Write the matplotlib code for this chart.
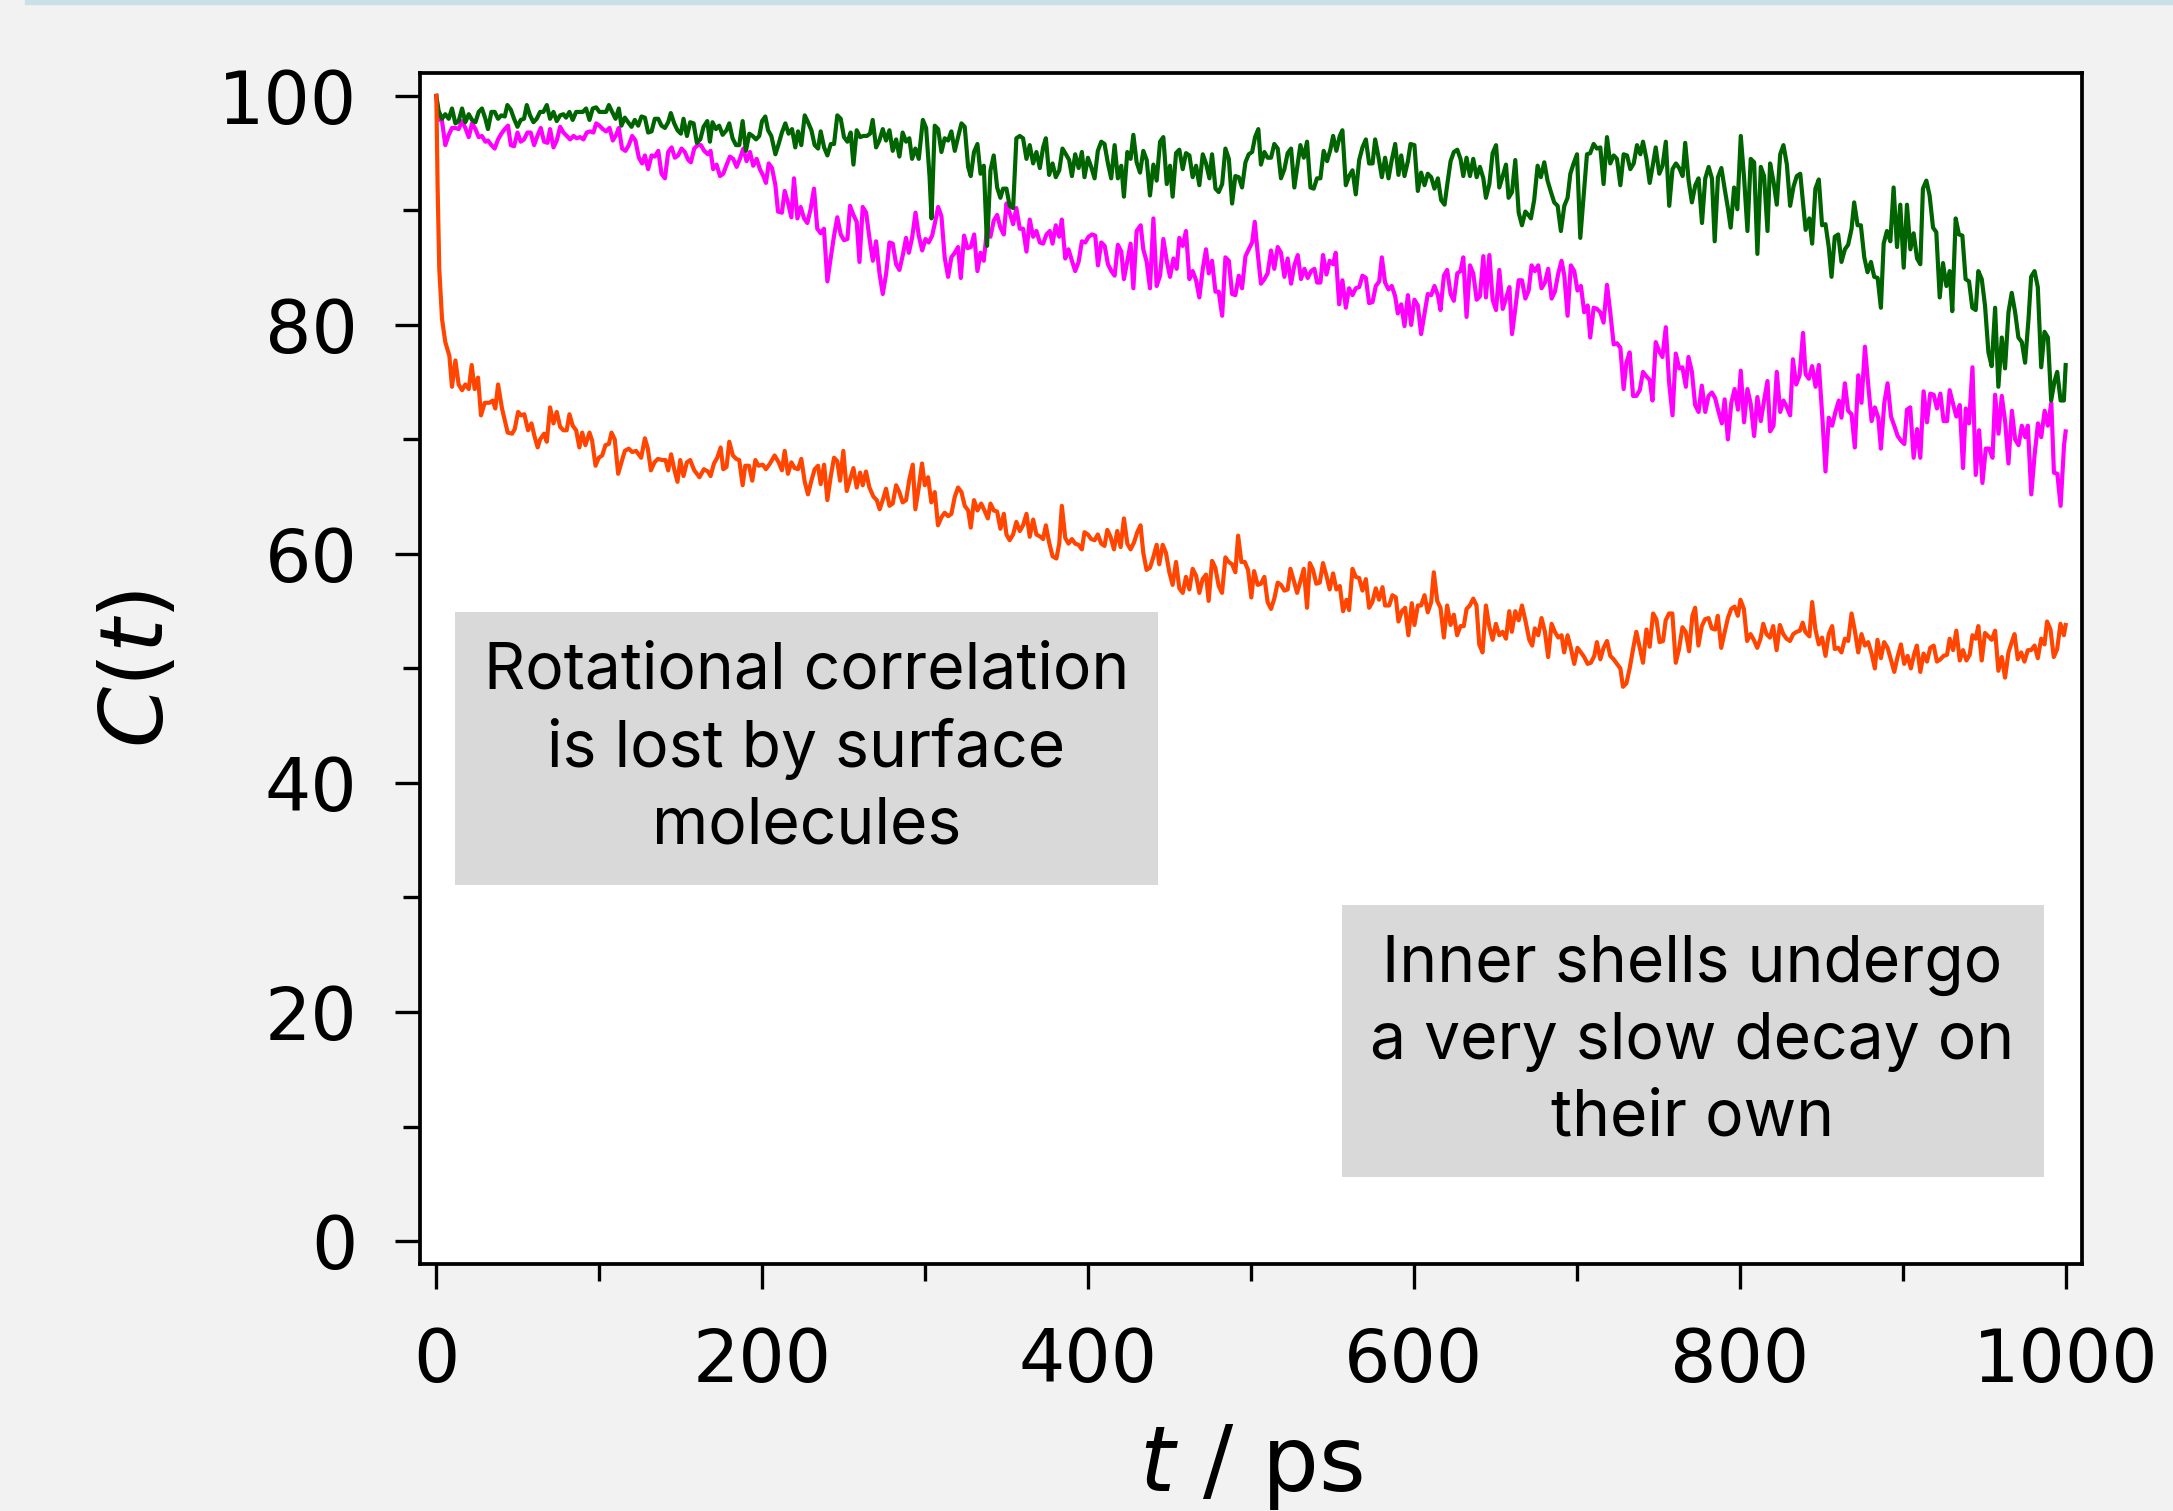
import matplotlib
matplotlib.use('Agg')
import matplotlib.pyplot as plt
import numpy as np
from matplotlib.lines import Line2D
from matplotlib.ticker import MultipleLocator

# C(t), (t in ps, C in %)
surface = [(0, 100), (0.8, 91.9), (1.8, 84.9), (3.5, 80.5), (5.5, 78.5), (8, 77.3), (9.6, 74.6), (11.7, 76.9), (13.7, 74.8), (15.8, 74.3), (17.8, 74.8), (19.9, 74.4), (21.7, 76.5), (23.5, 74.4), (25.6, 75.4), (27.4, 72.1), (29.7, 73.2), (32.6, 73.2), (34.6, 73.4), (36.2, 72.7), (37.9, 74.8), (40.3, 72.7), (43.8, 70.6), (46.5, 70.5), (48.1, 70.9), (50.2, 72.4), (52, 72.1), (54, 72.2), (56.3, 70.8), (58.4, 71.4), (60.2, 70.3), (62.2, 69.3), (63.7, 70.0), (66.1, 70.5), (67.8, 69.8), (69.8, 72.8), (71.9, 71.4), (73.9, 72.4), (76, 71.1), (78, 70.8), (80, 70.8), (81.7, 72.2), (83.7, 71.2), (85.8, 70.8), (87.8, 69.3), (89.5, 70.6), (91.5, 69.5), (94, 70.6), (95.6, 69.9), (97.7, 67.7), (99.7, 68.4), (101.8, 68.6), (103.8, 69.5), (105.9, 69.6), (107.5, 70.6), (109.5, 70.0), (111.6, 67.0), (113.6, 68.0), (115.7, 69.0), (118.1, 69.2), (120.2, 68.9), (122.6, 69.0), (125.7, 68.4), (128, 70.1), (129.8, 69.2), (131.7, 67.3), (133.9, 68.0), (136, 68.3), (138.6, 68.2), (140.7, 68.2), (142.3, 67.3), (144.1, 68.7), (146, 67.4), (148, 66.3), (149.7, 68.2), (151.7, 66.8), (153.8, 68.0), (155.8, 68.2), (158.3, 67.3),
           (161.5, 66.7), (164.2, 67.4), (166.7, 67.2), (168.3, 66.8), (170.4, 67.9), (172.4, 68.4), (174.5, 69.3), (176.1, 67.4), (178.1, 67.6), (179.8, 69.8), (182, 68.6), (184.1, 68.3), (185.9, 68.2), (188, 66.0), (189.6, 67.7), (191.9, 67.7), (193.9, 66.4), (195.8, 68.2), (197.8, 67.7), (200.3, 67.8), (202.3, 67.4), (204.8, 67.9), (207.6, 68.6), (210.1, 68.0), (212.1, 67.3), (213.8, 69.0), (215.8, 67.0), (217.9, 68.0), (219.9, 67.5), (222, 67.4), (224, 68.3), (226.1, 66.3), (228.1, 65.2), (230.2, 66.4), (232.2, 67.4), (234.3, 67.7), (235.9, 66.1), (238, 67.8), (240, 64.7), (242.1, 66.8), (244.1, 68.4), (246.1, 68.1), (247.8, 66.4), (249.8, 69.0), (251.9, 65.5), (253.9, 66.5), (256, 67.5), (258, 65.8), (260.1, 67.1), (261.7, 66.0), (263.7, 67.2), (265.8, 65.8), (268.3, 65.0), (270.3, 64.7), (272.1, 63.9), (274.2, 64.8), (276, 65.7), (278.1, 64.2), (280.1, 64.4), (282.2, 66.0), (284.2, 65.4), (286.2, 64.5), (288.3, 64.7), (290.3, 66.5), (292.4, 67.8), (294, 63.9), (296.1, 65.8), (298.1, 67.9), (299.8, 66.0), (301.8, 66.7), (303.8, 64.5), (305.9, 65.4), (307.9, 62.5), (310, 63.2), (312, 63.6), (314.1, 63.3), (316.1, 63.5), (318.2, 65.0), (320.2, 65.8), (322.3, 65.4), (324.3, 64.2), (326.4, 63.8), (328, 62.3), (330, 64.7), (332.1, 63.8),
           (334.4, 64.4), (336.4, 63.8), (338.5, 63.1), (340.1, 64.4), (342.1, 63.8), (344.2, 63.7), (346.2, 62.2), (348.3, 63.5), (349.9, 61.7), (351.9, 61.2), (354, 61.7), (356, 62.8), (358.1, 62.0), (360.1, 62.5), (362.2, 63.5), (364.2, 61.5), (366.3, 63.0), (368.3, 61.7), (370.8, 61.5), (372.4, 61.3), (374.1, 62.5), (376.1, 61.0), (378.2, 59.8), (380.6, 59.6), (382.3, 60.9), (383.9, 64.2), (386, 61.4), (388, 60.9), (390.1, 61.3), (392.1, 60.9), (394.1, 60.8), (396.2, 60.4), (397.8, 61.9), (399.9, 61.7), (401.9, 61.3), (404, 61.2), (406, 61.7), (408.1, 60.9), (410.1, 60.7), (411.8, 62.1), (413.8, 61.5), (415.9, 60.4), (417.9, 62.0), (420, 60.6), (422, 63.1), (424.1, 60.9), (426.1, 60.4), (428.2, 61.0), (430.2, 61.9), (432.2, 62.5), (433.9, 60.1), (435.9, 58.6), (438, 58.8), (440, 59.7), (442.1, 60.8), (443.7, 59.1), (445.8, 60.8), (447.8, 60.1), (449.9, 58.4), (451.9, 57.3), (454, 59.3), (456, 57.0), (458.1, 56.6), (460.1, 58.0), (462.2, 56.9), (464.2, 58.7), (466.3, 58.1), (468.3, 56.6), (470.3, 57.8), (472.4, 58.2), (474, 55.9), (476.1, 59.4), (478.1, 58.8), (480.2, 57.2), (482.2, 56.6), (484.3, 59.7), (486.3, 59.3), (488.4, 59.1), (490.4, 58.4), (492.1, 61.6), (494.1, 59.3), (496.2, 59.3), (498.2, 58.6), (500.2, 56.2), (501.9, 58.5),
           (504.1, 57.3), (506.1, 57.4), (508.2, 58.0), (510.2, 55.8), (512.3, 55.2), (514.3, 56.1), (516.4, 57.5), (518.4, 57.3), (520.5, 56.8), (522.5, 56.9), (524.2, 58.7), (526.2, 57.7), (528.3, 56.6), (530.3, 57.6), (532.4, 58.7), (534.4, 55.3), (536.1, 59.2), (538.1, 58.6), (540.1, 57.4), (542.2, 57.5), (544.2, 59.2), (546.3, 58.1), (548.3, 56.9), (550.4, 58.3), (552.4, 56.9), (554.5, 57.2), (556.5, 55.0), (558.6, 56.0), (560.2, 55.1), (562.3, 58.7), (564.3, 58.0), (566.4, 57.9), (568.4, 56.8), (570.5, 57.8), (572.5, 55.3), (574.5, 55.8), (576.6, 57.0), (578.6, 56.0), (580.7, 57.1), (582.3, 55.5), (584.8, 55.5), (586.8, 56.4), (588.9, 56.2), (590.5, 54.1), (592.6, 55.0), (594.6, 55.3), (596.6, 52.9), (598.7, 55.7), (600.3, 53.8), (602.4, 55.5), (604.4, 55.5), (606.5, 56.4), (608.5, 54.9), (610.6, 55.8), (612.2, 58.4), (614.3, 55.9), (616.3, 55.3), (618.4, 52.7), (620.4, 55.5), (622.5, 53.8), (624.5, 54.7), (626.5, 52.9), (628.6, 53.7), (630.6, 53.7), (632.3, 55.2), (634.3, 55.5), (636.4, 56.1), (638.4, 55.5), (640.1, 52.1), (642.1, 51.4), (644.2, 55.5), (646.2, 53.7), (648.3, 52.5), (650.3, 53.9), (652.4, 52.9), (654.4, 53.2), (656.5, 52.6), (658.5, 55.0), (660.1, 53.2), (662.2, 55.0), (664.3, 54.2), (666.3, 55.5), (668.4, 54.2), (670.8, 52.5),
           (672.6, 52.0), (674.2, 53.5), (676.3, 52.9), (678.3, 54.4), (680.4, 53.2), (682.4, 51.0), (684.5, 53.9), (686.5, 53.2), (688.6, 52.7), (690.6, 52.9), (692.2, 51.4), (694.3, 52.9), (696.3, 51.8), (698.4, 50.4), (700.4, 51.8), (702.5, 51.4), (704.5, 51.0), (706.6, 50.4), (708.6, 50.5), (710.7, 51.1), (712.3, 52.3), (714.4, 50.8), (716.4, 51.8), (718.5, 52.4), (720.5, 51.1), (722.6, 50.8), (724.6, 50.4), (726.7, 50.0), (728.3, 48.4), (730.4, 48.7), (732.4, 50.0), (734.5, 51.7), (736.5, 53.2), (738.6, 51.8), (740.6, 50.5), (742.7, 53.4), (744.7, 51.9), (746.8, 54.8), (748.8, 54.3), (750.8, 52.3), (752.9, 52.4), (754.5, 54.2), (756.6, 54.8), (758.6, 54.8), (760.7, 50.5), (762.7, 51.7), (764.8, 53.6), (766.8, 53.2), (768.9, 51.5), (770.9, 54.6), (772.6, 55.3), (774.6, 52.0), (776.7, 53.7), (778.7, 54.3), (780.8, 54.4), (782.8, 53.5), (784.9, 53.4), (786.5, 54.6), (788.6, 51.8), (790.6, 53.1), (792.7, 54.4), (794.7, 55.2), (796.8, 55.4), (798.8, 54.6), (800.4, 56.0), (802.5, 55.2), (804.5, 52.4), (806.6, 53.0), (808.6, 52.5), (810.7, 51.8), (812.7, 52.6), (814.4, 53.9), (816.4, 53.0), (818.5, 52.7), (820.5, 53.7), (822.6, 51.6), (824.6, 53.8), (826.7, 53.0), (828.7, 52.6), (830.8, 52.4), (832.8, 53.0), (834.9, 53.2), (836.9, 53.3), (838.6, 54.0), (840.2, 53.2),
           (842.7, 52.8), (844.4, 55.8), (846.4, 53.4), (848.5, 52.1), (850.5, 52.7), (852.6, 51.1), (854.6, 53.0), (856.7, 53.7), (858.3, 51.7), (860.4, 51.8), (862.4, 51.4), (864.5, 52.6), (866.5, 52.4), (868.6, 54.8), (870.6, 53.3), (872.7, 51.4), (874.7, 53.0), (876.8, 52.0), (878.8, 52.3), (880.9, 51.3), (882.9, 50.0), (884.5, 52.5), (886.6, 50.9), (888.6, 52.3), (890.7, 51.8), (892.7, 50.8), (894.8, 49.7), (896.8, 51.0), (898.9, 52.1), (900.9, 50.4), (903, 51.1), (905, 50.0), (907.1, 51.3), (908.7, 52.0), (910.8, 49.7), (912.8, 51.3), (914.9, 50.6), (916.9, 51.8), (919, 52.0), (921, 50.6), (923.1, 50.8), (925.1, 51.1), (927.2, 51.2), (928.8, 52.6), (930.9, 51.6), (932.9, 53.3), (935, 50.7), (937, 51.6), (939.1, 50.7), (941.1, 51.2), (942.8, 52.9), (944.8, 52.6), (946.4, 53.7), (948.5, 50.7), (950.5, 53.1), (952.6, 52.8), (954.6, 52.5), (956.7, 53.3), (958.7, 49.8), (960.8, 51.0), (962.8, 49.2), (964.9, 51.4), (966.9, 52.3), (968.6, 53.0), (970.6, 50.8), (972.7, 51.4), (974.7, 50.6), (976.8, 51.6), (978.8, 51.6), (980.9, 52.0), (982.9, 50.9), (985, 52.6), (987, 52.1), (988.6, 54.1), (990.7, 53.4), (992.7, 51.0), (994.8, 51.7), (996.8, 53.9), (998.9, 52.9), (1000, 53.8)]

inner = [(0, 100), (1.4, 98.7), (3.5, 98.0), (5.5, 98.4), (7.6, 98.0), (9.6, 98.9), (11.7, 97.6), (13.7, 97.8), (15.8, 98.9), (17.8, 97.7), (19.9, 98.4), (21.9, 97.9), (24, 97.7), (26, 98.6), (28, 98.9), (30.1, 98.0), (31.7, 97.1), (33.8, 98.6), (35.8, 98.6), (37.9, 98.0), (39.9, 98.3), (42, 98.2), (43.6, 99.2), (45.7, 98.8), (47.7, 98.0), (49.8, 97.3), (51.8, 97.9), (53.8, 98.0), (55.5, 99.2), (57.5, 98.3), (59.6, 97.7), (61.6, 98.0), (63.7, 98.6), (65.7, 98.6), (67.8, 99.2), (69.8, 98.0), (71.9, 98.6), (73.9, 97.8), (76, 98.3), (78, 98.4), (79.6, 98.1), (81.7, 98.6), (83.7, 97.9), (85.8, 98.6), (87.8, 98.6), (89.9, 98.6), (91.9, 98.9), (94, 97.9), (96, 98.9), (98.1, 99.0), (100.1, 98.6), (102.2, 98.6), (104.2, 98.6), (105.9, 99.2), (107.9, 98.6), (110, 98.0), (112, 98.9), (113.6, 97.4), (115.7, 98.1), (117.7, 97.7), (119.8, 97.3), (121.8, 97.9), (123.9, 97.4), (125.9, 98.2), (128, 98.1), (130, 96.8), (132.1, 96.9), (134.1, 98.0), (136.2, 98.0), (138.2, 97.4), (140.3, 97.2), (142.3, 97.7), (143.9, 98.5), (146, 97.6), (148, 97.0), (150.1, 96.7), (151.7, 98.0), (153.8, 96.5), (155.8, 97.7), (157.9, 97.6), (159.9, 95.9), (162, 96.2), (164, 97.3),
         (166.3, 97.8), (167.9, 96.0), (169.5, 97.7), (171.6, 97.1), (173.6, 97.4), (175.7, 96.6), (178.1, 97.0), (179.8, 97.6), (181.8, 96.3), (183.9, 95.7), (185.9, 95.7), (188, 97.8), (190, 95.2), (192.1, 96.7), (194.1, 96.5), (196.2, 96.2), (198.2, 96.5), (199.9, 97.8), (201.9, 98.2), (203.6, 97.0), (205.6, 96.5), (208.1, 94.9), (210.1, 95.8), (212.1, 96.8), (214.2, 97.6), (216.2, 96.7), (218.3, 97.1), (220.3, 95.5), (222, 96.9), (224, 95.7), (226.1, 98.3), (228.1, 97.7), (230.2, 97.0), (232.2, 95.7), (234.3, 95.4), (235.9, 96.9), (238, 95.5), (240, 94.8), (242.1, 95.8), (244.1, 95.8), (246.1, 98.3), (248.2, 98.0), (250.2, 96.4), (252.3, 96.0), (254.3, 96.8), (256, 94.0), (258, 97.0), (260.1, 96.4), (262.1, 96.5), (264.2, 96.5), (266.2, 96.7), (267.8, 97.9), (269.9, 95.5), (271.9, 96.1), (274, 97.1), (276, 96.1), (278.1, 97.0), (280.1, 95.2), (282.2, 96.2), (284.2, 94.7), (286.2, 96.8), (288.3, 96.0), (290.3, 96.3), (292, 94.5), (294, 95.4), (296.1, 94.5), (298.6, 97.9), (300.6, 97.2), (302.7, 93.0), (303.9, 89.3), (305.9, 97.4), (308, 97.1), (310, 95.1), (312, 96.3), (314.1, 96.1), (316.1, 96.9), (318.2, 95.2), (320.2, 96.4), (322.3, 97.6), (324.3, 97.3), (326.4, 93.8), (328, 93.0), (330, 95.1), (332.1, 95.8),
         (334, 93.2), (336, 93.9), (338, 86.9), (340.1, 93.5), (342.1, 94.8), (344.2, 92.0), (346.2, 91.1), (347.8, 91.9), (349.9, 91.9), (351.9, 90.4), (354, 90.2), (356, 96.3), (358.1, 96.5), (360.1, 96.3), (362.2, 94.5), (364.2, 95.7), (366.3, 94.1), (368.3, 95.1), (370.4, 93.7), (372.4, 95.5), (374.1, 96.3), (376.1, 93.1), (378.2, 94.1), (380.2, 92.9), (382.3, 93.5), (384.3, 95.4), (386.4, 94.9), (388.4, 94.4), (390.1, 93.0), (392.1, 94.9), (394.2, 93.7), (396.2, 95.1), (397.8, 92.9), (399.9, 94.6), (401.9, 93.8), (404, 92.8), (406, 95.2), (408.1, 96.0), (410.1, 95.8), (412.2, 94.1), (414.2, 92.8), (416.3, 95.7), (418.3, 92.8), (420.4, 93.9), (422, 91.2), (424.1, 95.1), (426.1, 94.5), (427.8, 96.6), (429.8, 94.2), (431.9, 93.3), (433.9, 95.2), (436, 94.4), (438, 91.3), (440.1, 94.0), (442.1, 92.6), (444.2, 96.0), (446.2, 96.4), (448.3, 92.3), (450.3, 93.9), (451.9, 91.2), (454, 95.0), (456, 95.3), (458.1, 93.6), (460.1, 95.0), (462.2, 94.8), (464.2, 92.9), (466.3, 93.9), (468.3, 92.2), (470.4, 94.9), (472.4, 94.1), (474.5, 92.8), (476.1, 94.9), (478.2, 91.9), (480.2, 91.6), (482.3, 92.3), (484.3, 95.4), (486.4, 94.5), (488.4, 90.6), (490.4, 93.0), (492.5, 92.9), (494.5, 92.0), (496.6, 94.2), (498.6, 94.9), (500.7, 95.1), (502.5, 96.4),
         (504.5, 97.1), (506.1, 94.0), (508.2, 95.1), (510.2, 94.6), (512.3, 94.6), (514.3, 95.8), (516.4, 95.4), (518.4, 92.8), (520.5, 93.6), (522.5, 95.0), (524.6, 95.4), (526.6, 92.0), (528.7, 94.1), (530.3, 95.7), (532.4, 94.6), (534.4, 96.0), (536.5, 92.0), (538.5, 91.9), (540.5, 92.8), (542.6, 92.8), (544.6, 95.2), (546.7, 94.3), (548.7, 95.3), (550.4, 96.5), (552.4, 95.2), (554.5, 96.5), (556.1, 97.0), (558.2, 92.2), (560.2, 93.0), (562.3, 93.5), (564.3, 91.4), (566.4, 94.4), (568.4, 95.5), (570.5, 96.2), (572.5, 94.1), (574.6, 94.1), (576.2, 96.2), (578.2, 94.7), (580.3, 92.9), (582.3, 94.6), (584.4, 92.8), (586.4, 94.4), (588.5, 95.8), (590.5, 93.1), (592.2, 94.8), (594.2, 93.0), (596.3, 94.3), (597.9, 95.8), (600.3, 95.7), (602.4, 91.7), (604.4, 93.3), (606.5, 92.2), (608.5, 93.2), (610.6, 92.9), (612.6, 91.9), (614.7, 92.8), (616.7, 90.9), (618.8, 90.5), (620.4, 92.2), (622.5, 94.3), (624.5, 95.1), (626.6, 95.3), (628.6, 94.5), (630.3, 93.0), (632.3, 94.6), (634.4, 93.0), (636.4, 94.5), (638.5, 92.9), (640.5, 93.8), (642.6, 92.8), (644.2, 91.1), (646.3, 92.3), (648.3, 95.0), (650.4, 95.7), (652.4, 92.0), (654.5, 93.0), (656.5, 94.0), (658.1, 91.1), (660.2, 91.6), (662.2, 94.4), (664.3, 89.8), (666.3, 88.7), (668.4, 89.9), (670.8, 89.5),
         (671.8, 89.3), (673.8, 90.9), (675.9, 93.9), (677.9, 92.9), (680, 94.2), (682, 92.6), (684.1, 91.6), (686.1, 90.7), (688.2, 90.4), (690.2, 88.2), (692.3, 90.4), (694.3, 91.1), (696, 93.2), (698, 94.1), (700.1, 94.9), (702.1, 87.6), (704.2, 91.3), (706.2, 94.9), (708.2, 95.0), (710.3, 95.8), (712.3, 95.4), (714.4, 95.5), (716.4, 92.3), (718.5, 96.4), (720.5, 94.1), (722.6, 94.8), (724.6, 94.5), (726.7, 92.2), (728.7, 94.9), (730.8, 94.8), (732.8, 93.6), (734.9, 94.1), (736.9, 95.7), (739, 94.9), (740.6, 96.0), (742.7, 94.5), (744.7, 92.4), (746.8, 94.1), (748.4, 95.5), (750.6, 93.2), (752.6, 93.9), (754.6, 96.0), (756.7, 90.4), (758.7, 93.6), (760.8, 94.1), (762.8, 93.7), (764.9, 93.0), (766.5, 95.9), (768.6, 92.6), (770.6, 90.7), (772.7, 92.2), (774.7, 92.8), (776.8, 88.9), (778.8, 92.8), (780.9, 93.8), (782.9, 92.8), (784.6, 87.3), (786.6, 92.9), (788.7, 93.7), (790.7, 91.9), (792.8, 90.1), (794.4, 88.5), (796.5, 92.0), (798.5, 90.1), (800.6, 96.5), (802.6, 92.9), (804.7, 88.2), (806.7, 94.5), (808.8, 94.2), (810.8, 86.2), (812.9, 93.8), (814.9, 93.0), (817, 88.2), (818.6, 94.1), (820.7, 92.5), (822.7, 90.5), (824.8, 94.9), (826.8, 95.7), (828.9, 94.0), (830.9, 90.4), (833, 92.1), (835, 93.0), (837.1, 93.2), (840.4, 88.3),
         (842.7, 89.3), (844.4, 87.1), (846.4, 91.9), (848.5, 92.7), (850.5, 88.7), (852.6, 88.8), (854.6, 86.8), (856.3, 84.2), (858.3, 87.7), (860.4, 87.9), (862.4, 85.5), (864.5, 86.6), (866.5, 87.0), (868.6, 88.4), (870.2, 90.7), (872.3, 88.7), (874.3, 88.7), (876.4, 85.9), (878.4, 84.6), (880.5, 85.5), (882.5, 84.2), (884.6, 84.1), (886.6, 81.5), (888.3, 87.1), (890.3, 88.2), (892.4, 87.3), (894.4, 92.0), (896.5, 86.8), (898.5, 90.5), (900.6, 85.0), (902.6, 90.5), (904.7, 86.6), (906.7, 88.0), (908.8, 85.8), (910.8, 85.3), (912.4, 91.9), (914.5, 92.6), (916.5, 91.3), (918.6, 88.5), (920.6, 88.1), (922.7, 82.4), (924.7, 85.4), (926.8, 83.4), (928.8, 84.7), (930.4, 81.2), (932.5, 89.3), (934.5, 87.9), (936.6, 87.8), (938.6, 84.0), (940.7, 83.8), (942.7, 81.5), (944.8, 81.3), (946.4, 84.7), (948.5, 84.0), (950.5, 81.7), (952.6, 77.6), (954.6, 76.4), (956.7, 81.5), (958.7, 74.6), (960.8, 78.9), (962.8, 76.2), (964.9, 81.1), (966.9, 82.8), (969, 81.1), (971, 78.9), (973.1, 78.5), (975.1, 76.7), (977.2, 80.5), (978.8, 84.2), (980.9, 84.7), (982.9, 83.3), (985, 76.3), (987, 79.4), (989.1, 78.9), (991.1, 73.4), (993.2, 75.1), (994.8, 75.9), (996.9, 73.4), (998.9, 73.4), (1000, 76.5)]

middle = [(0, 100), (1.4, 98.0), (3.5, 97.8), (5.5, 95.7), (7.6, 96.6), (9.6, 97.2), (11.7, 97.2), (13.7, 97.1), (15.8, 97.8), (17.8, 97.2), (19.9, 96.4), (21.9, 97.6), (24, 97.1), (26, 96.4), (28, 96.5), (30.1, 96.0), (31.7, 96.1), (33.8, 95.7), (35.8, 95.4), (37.9, 96.2), (39.9, 96.7), (42, 97.1), (44, 97.4), (45.7, 95.7), (47.7, 95.6), (49.8, 96.8), (51.8, 96.0), (53.8, 96.2), (55.9, 96.8), (57.9, 96.8), (60, 95.7), (62, 96.5), (64.1, 97.2), (66.1, 96.0), (68.2, 95.9), (69.8, 97.1), (71.9, 95.5), (73.9, 96.1), (76, 97.3), (78, 96.8), (80.1, 96.5), (82.1, 96.2), (84.2, 96.5), (86.2, 96.3), (88.2, 96.4), (90.3, 96.2), (92.3, 96.8), (94.4, 96.9), (96.4, 96.8), (98.1, 97.6), (100.1, 97.4), (102.2, 97.1), (104.2, 96.9), (106.3, 97.2), (108.3, 96.1), (110.4, 96.6), (112, 97.2), (114, 95.4), (116.1, 95.2), (118.1, 95.7), (120.2, 96.5), (122.2, 96.1), (124.3, 94.6), (126.3, 94.1), (128, 94.8), (130, 93.6), (132.1, 94.8), (134.1, 94.7), (136.2, 95.2), (138.2, 93.2), (140.3, 92.8), (142.3, 95.1), (144.4, 95.5), (146.4, 94.6), (148.4, 94.8), (150.5, 95.4), (152.5, 95.1), (154.6, 94.4), (156.2, 94.2), (158.3, 95.4), (160.3, 95.7), (162.4, 95.7), (164.4, 95.2),
          (166.7, 94.9), (168.3, 95.2), (169.9, 93.6), (172, 94.0), (174.1, 93.0), (176.1, 93.2), (178.2, 94.0), (180.2, 94.7), (182.2, 94.5), (184.3, 93.8), (186.3, 94.5), (188.4, 95.4), (190.4, 94.3), (192.5, 95.1), (194.5, 93.9), (196.6, 94.5), (198.6, 93.6), (200.7, 93.0), (202.3, 92.4), (204, 94.1), (206, 93.7), (208.1, 92.2), (209.7, 89.9), (212.1, 89.8), (213.8, 91.7), (215.8, 90.7), (217.9, 89.4), (219.5, 92.8), (221.6, 89.3), (223.6, 90.3), (225.7, 89.3), (227.7, 88.9), (229.7, 90.1), (231.8, 91.9), (233.8, 88.4), (235.9, 88.0), (237.9, 88.4), (240, 83.8), (242, 85.8), (244.1, 87.8), (246.1, 89.4), (248.2, 87.9), (250.2, 87.4), (252.3, 87.5), (253.9, 90.4), (256, 89.6), (258, 89.0), (259.7, 85.5), (261.7, 90.3), (263.8, 89.8), (265.8, 87.6), (267.9, 85.6), (269.9, 87.3), (272, 84.5), (274, 82.7), (276.1, 84.5), (278.1, 87.2), (280.1, 87.1), (282.2, 85.3), (284.2, 84.8), (286.3, 86.1), (288.3, 87.6), (290, 86.3), (292, 87.6), (294.1, 89.8), (296.1, 87.8), (298.2, 86.5), (300.2, 87.5), (302.2, 87.2), (304.3, 87.8), (306.3, 89.1), (308, 90.3), (310, 89.5), (312, 85.9), (314.1, 84.2), (316.1, 85.9), (318.2, 86.3), (320.2, 86.8), (321.9, 84.1), (323.9, 87.8), (326, 86.7), (328, 86.8), (330.1, 87.9), (332.1, 84.7),
          (334, 86.3), (336, 85.6), (338, 88.4), (340.1, 87.7), (342.1, 89.1), (344.2, 89.6), (346.2, 88.5), (348.3, 87.9), (349.9, 90.6), (351.9, 89.8), (354, 88.8), (356, 90.2), (358.1, 88.4), (360.1, 88.4), (362.2, 86.4), (364.2, 89.2), (366.3, 87.7), (368.3, 88.2), (370.4, 87.2), (372.4, 87.1), (374.5, 87.9), (376.5, 88.2), (378.2, 87.1), (380.2, 88.7), (382.3, 87.7), (383.9, 89.2), (386, 85.8), (388, 86.6), (390.1, 85.6), (392.1, 84.7), (394.2, 85.5), (396.2, 87.3), (398.3, 87.2), (400.3, 87.7), (402.4, 87.9), (404.4, 87.8), (406.1, 85.2), (408.1, 87.2), (410.2, 86.9), (412.2, 85.3), (414.3, 84.7), (416.3, 84.3), (418.3, 87.0), (420.4, 86.4), (422, 84.0), (424.1, 85.6), (426.1, 87.1), (427.8, 83.2), (429.8, 88.2), (432.3, 88.7), (433.9, 86.6), (436, 85.5), (438, 83.2), (440.1, 89.3), (442.1, 83.4), (444.2, 84.3), (446.2, 87.5), (448.3, 85.6), (450.3, 84.2), (452.4, 85.8), (454.4, 84.9), (456, 87.6), (458.1, 86.9), (460.1, 88.2), (462.2, 84.0), (464.2, 84.7), (466.3, 83.9), (468.3, 82.4), (470.4, 84.9), (472.4, 86.6), (474.1, 84.5), (476.1, 85.6), (478.2, 82.9), (480.2, 82.9), (482.3, 80.8), (484.3, 85.9), (486.4, 85.6), (488.4, 82.7), (490.4, 82.6), (492.5, 84.3), (494.5, 83.2), (496.6, 86.0), (498.6, 86.6), (500.7, 87.2), (502.3, 89.0),
          (504.1, 86.3), (506.1, 83.6), (508.2, 84.0), (510.2, 84.5), (512.3, 86.5), (514.3, 84.9), (516.4, 86.8), (518.4, 86.3), (520.5, 84.2), (522.5, 85.8), (524.6, 83.6), (526.6, 85.2), (528.7, 86.1), (530.7, 84.0), (532.8, 84.9), (534.8, 84.1), (536.9, 84.7), (538.9, 84.9), (540.6, 83.7), (542.6, 83.7), (544.2, 86.1), (546.3, 84.4), (548.3, 85.6), (550.4, 85.3), (552, 86.3), (554.1, 81.8), (556.1, 83.9), (558.2, 81.5), (560.2, 83.2), (562.3, 82.6), (564.3, 83.2), (566.4, 83.3), (568.4, 84.3), (570.5, 84.1), (572.5, 81.9), (574.6, 82.0), (576.6, 83.4), (578.7, 83.8), (580.3, 85.9), (582.3, 83.7), (584.4, 83.1), (586.4, 83.4), (588.5, 82.5), (590.1, 81.0), (592.2, 81.8), (594.2, 79.9), (596.3, 82.6), (598.3, 80.0), (600.3, 82.2), (602.4, 81.7), (604.4, 79.2), (606.5, 81.0), (608.5, 82.7), (610.6, 82.6), (612.6, 83.4), (614.7, 82.6), (616.3, 81.3), (618.4, 84.3), (620.4, 84.8), (622.5, 82.7), (624.5, 82.1), (626.6, 84.5), (628.6, 84.7), (630.3, 85.9), (632.3, 80.7), (634.4, 85.2), (636.4, 84.5), (638.5, 82.2), (640.5, 82.5), (642.6, 86.0), (644.2, 82.4), (646.3, 86.1), (648.3, 82.2), (650.4, 81.3), (652.4, 84.8), (654.5, 81.4), (656.5, 82.3), (658.6, 83.3), (660.2, 79.2), (662.2, 81.4), (664.3, 83.9), (666.3, 83.9), (668.4, 82.3), (670.4, 83.0),
          (672.2, 85.2), (674.2, 84.7), (676.3, 85.2), (678.3, 83.2), (680.4, 83.7), (682.4, 84.9), (684.5, 82.3), (686.5, 82.9), (688.6, 84.5), (690.6, 85.6), (692.3, 84.3), (694.3, 80.8), (696.3, 85.2), (698.4, 84.7), (700.4, 83.0), (702.5, 83.4), (704.5, 81.1), (706.6, 81.7), (708.2, 78.9), (710.3, 81.5), (712.3, 81.4), (714.4, 81.1), (716.4, 80.2), (718.5, 83.5), (720.5, 81.1), (722.6, 78.3), (724.6, 78.4), (726.7, 78.0), (728.7, 74.4), (730.4, 76.7), (732.4, 77.6), (734.5, 73.8), (736.5, 73.8), (738.6, 74.3), (740.6, 75.9), (742.7, 75.5), (744.7, 75.2), (746.4, 73.4), (748.4, 78.5), (750.5, 77.7), (752.5, 77.2), (754.6, 79.8), (756.6, 75.0), (758.7, 72.1), (760.7, 77.5), (762.8, 76.2), (764.8, 76.3), (766.9, 74.6), (768.5, 77.2), (770.6, 75.9), (772.6, 73.0), (774.7, 72.4), (776.7, 74.7), (778.8, 72.4), (780.8, 73.8), (782.9, 74.1), (784.9, 73.6), (787, 72.4), (789, 71.4), (790.7, 73.5), (792.7, 70.0), (794.8, 73.2), (796.8, 74.4), (798.9, 72.6), (800.6, 76.0), (802.6, 71.5), (804.7, 74.4), (806.7, 73.1), (808.8, 70.3), (810.8, 73.7), (812.9, 71.6), (814.9, 73.4), (817, 75.1), (818.6, 70.7), (820.7, 71.2), (822.7, 75.9), (824.8, 72.4), (826.8, 73.4), (828.9, 72.8), (830.9, 72.1), (832.6, 77.0), (834.6, 74.8), (836.7, 75.6), (838.8, 79.3), (840.4, 75.7),
          (842.4, 75.3), (844.4, 76.4), (846.5, 74.6), (848.5, 76.5), (850.6, 72.1), (852.6, 67.2), (854.6, 71.9), (856.7, 71.2), (858.7, 72.4), (860.8, 73.4), (862.4, 71.9), (864.5, 74.9), (866.5, 72.5), (868.6, 72.2), (870.6, 69.3), (872.7, 75.6), (874.7, 73.2), (876.8, 78.1), (878.8, 74.8), (880.9, 71.6), (882.9, 72.8), (885, 71.9), (886.6, 69.2), (888.7, 73.2), (890.7, 74.9), (892.8, 72.0), (894.8, 71.2), (896.9, 70.3), (898.9, 69.9), (901, 69.6), (902.6, 72.6), (904.6, 72.8), (906.7, 68.4), (908.8, 70.9), (910.8, 68.4), (912.8, 74.2), (914.9, 71.5), (916.9, 74.0), (919, 73.9), (921, 72.7), (923.1, 74.0), (925.1, 71.6), (927.2, 71.6), (928.8, 74.3), (930.9, 73.1), (932.9, 72.0), (935, 73.0), (937, 67.5), (938.7, 72.7), (940.7, 71.4), (942.8, 76.3), (944.8, 66.9), (946.9, 70.8), (948.9, 66.2), (951, 69.2), (953, 69.2), (955.1, 68.4), (956.7, 73.9), (958.8, 70.5), (960.8, 73.8), (962.9, 71.5), (964.9, 67.9), (967, 72.5), (969, 70.0), (971.1, 69.5), (973.1, 71.2), (975.2, 70.2), (976.8, 71.2), (978.9, 65.2), (980.9, 68.6), (983, 71.4), (985, 70.2), (987.1, 72.5), (989.1, 71.2), (991.2, 73.2), (992.8, 67.1), (994.9, 67.0), (996.9, 64.2), (999, 69.5), (1000, 70.7)]

box_texts = ["Rotational correlation\nis lost by surface\nmolecules",
             "Inner shells undergo\na very slow decay on\ntheir own"]
box_xy = [(227, 43), (771, 17.4)]

t_s, c_s = np.array(surface).T
t_i, c_i = np.array(inner).T
t_m, c_m = np.array(middle).T

fig = plt.figure(figsize=(2173 / 300, 1511 / 300), dpi=300, facecolor='#f2f2f2')
ax = fig.add_axes([0.1933, 0.1635, 0.7648, 0.7882])
ax.set_facecolor('white')

ax.plot(t_m, c_m, color='#ff00ff', lw=1.0)
ax.plot(t_i, c_i, color='#006400', lw=1.0)
ax.plot(t_s, c_s, color='#ff4500', lw=1.0)

ax.set_xlim(-10, 1010)
ax.set_ylim(-2, 102)
ax.xaxis.set_major_locator(MultipleLocator(200))
ax.xaxis.set_minor_locator(MultipleLocator(100))
ax.yaxis.set_major_locator(MultipleLocator(20))
ax.yaxis.set_minor_locator(MultipleLocator(10))
ax.tick_params(which='major', direction='out', length=6, width=0.8, labelsize=17.5, pad=9)
ax.tick_params(which='minor', direction='out', length=4, width=0.8)
for s in ax.spines.values():
    s.set_linewidth(0.9)

ax.set_xlabel(r'$t$ / ps', fontsize=21.5, labelpad=6)
ax.set_ylabel(r'$C(t)$', fontsize=21, labelpad=9)

for txt, (x, y) in zip(box_texts, box_xy):
    ax.text(x, y, txt, ha='center', va='center', fontsize=15.4, family=['Inter', 'DejaVu Sans'],
            linespacing=1.34,
            bbox=dict(boxstyle='square,pad=0.45', fc='#d9d9d9', ec='none'))

# thin pale line along the top edge
fig.add_artist(Line2D([0.013, 1.0], [0.999, 0.999], transform=fig.transFigure,
                      color='#c8e0e6', lw=1.5))

fig.savefig('out.png', dpi=300, facecolor=fig.get_facecolor())
